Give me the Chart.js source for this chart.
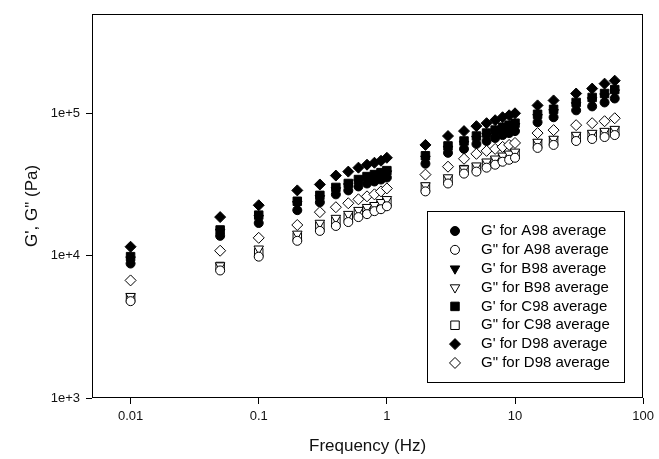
<!DOCTYPE html>
<html>
<head>
<meta charset="utf-8">
<script src="https://cdn.jsdelivr.net/npm/chart.js@4/dist/chart.umd.min.js"></script>
<style>
  html, body { margin: 0; padding: 0; background: #fff; }
  #wrap { width: 659px; height: 459px; }
</style>
</head>
<body>
<div id="wrap"><canvas id="c" width="659" height="459"></canvas></div>
<script>
// Oscillatory frequency sweep (Hz)
const frequency = [0.01, 0.05, 0.1, 0.2, 0.3, 0.4, 0.5, 0.6, 0.7, 0.8, 0.9, 1,
                   2, 3, 4, 5, 6, 7, 8, 9, 10, 15, 20, 30, 40, 50, 60];

// Storage modulus G' (Pa)
const gPrimeA98 = [8800, 13770, 16950, 20870, 23710, 26950, 28730, 30630, 32130, 33180, 34250, 35370,
                   44250, 52750, 56230, 60920, 63900, 67050, 70340, 72630, 74980, 86600, 93810, 104900, 111800, 119200, 127100];
const gPrimeB98 = [9380, 14680, 18360, 22970, 25280, 28730, 30630, 32650, 34250, 35370, 36520, 37700,
                   47920, 56230, 60920, 65990, 69230, 72630, 76200, 78670, 81230, 93810, 101600, 113650, 123100, 131200, 139900];
const gPrimeC98 = [9840, 15150, 19260, 24100, 26520, 30140, 32130, 34250, 35940, 37100, 38310, 39560,
                   50280, 59000, 63900, 69230, 72630, 76200, 79940, 82540, 85220, 98410, 106600, 119200, 129200, 137700, 146800];
const gPrimeD98 = [11550, 18660, 22600, 28730, 31620, 36520, 38930, 41500, 43540, 44960, 46420, 48700,
                   59950, 69230, 74980, 81230, 85220, 89400, 93810, 96860, 100000, 113650, 123100, 137700, 149150, 161600, 169500];

// Loss modulus G" (Pa)
const gDoubleA98 = [4790, 7870, 9840, 12710, 14920, 16160, 17220, 18660, 19570, 20540, 21200, 22240,
                    28280, 32130, 37700, 38930, 41500, 43540, 45680, 47160, 48700, 57130, 59950, 63900, 65990, 68130, 70340];
const gDoubleB98 = [5190, 8520, 11180, 14220, 16950, 18360, 19570, 20870, 21890, 22600, 23710, 24880,
                    31120, 35370, 40840, 42850, 45680, 47920, 50280, 51910, 53600, 62890, 65990, 70340, 72630, 74980, 77430];
const gDoubleC98 = [5030, 8390, 10490, 13550, 16160, 17500, 18660, 19890, 20870, 21890, 22600, 23710,
                    30140, 34250, 40200, 41500, 44250, 46420, 48700, 50280, 51910, 60920, 63900, 68130, 70340, 72630, 74980];
const gDoubleD98 = [6700, 10830, 13340, 16420, 20210, 21890, 23340, 24880, 26100, 26950, 28280, 29660,
                    37100, 42170, 47920, 51910, 54460, 56230, 58060, 59950, 61900, 72630, 76200, 82540, 85220, 87980, 92320];

// Axis ticks
const xTickValues = [0.01, 0.1, 1, 10, 100];
const xTickLabels = ['0.01', '0.1', '1', '10', '100'];
const yTickValues = [1e3, 1e4, 1e5];
const yTickLabels = ['1e+3', '1e+4', '1e+5'];

const FONT = "'Liberation Sans', Arial, Helvetica, sans-serif";

function series(label, values, style, filled, radius, rotation) {
  return {
    label: label,
    data: values.map((v, i) => ({ x: frequency[i], y: v })),
    showLine: false,
    pointStyle: style,
    pointRadius: radius,
    pointHoverRadius: radius,
    pointRotation: rotation,
    pointBorderWidth: 1,
    pointBackgroundColor: filled ? '#000' : '#fff',
    pointBorderColor: '#000',
    backgroundColor: filled ? '#000' : '#fff',
    borderColor: '#000'
  };
}

const datasets = [
  series("G' for A98 average", gPrimeA98, 'circle', true, 4.5, 0),
  series('G" for A98 average', gDoubleA98, 'circle', false, 4.5, 0),
  series("G' for B98 average", gPrimeB98, 'triangle', true, 5.5, 180),
  series('G" for B98 average', gDoubleB98, 'triangle', false, 5.5, 180),
  series("G' for C98 average", gPrimeC98, 'rect', true, 6, 0),
  series('G" for C98 average', gDoubleC98, 'rect', false, 6, 0),
  series("G' for D98 average", gPrimeD98, 'rectRot', true, 5.5, 0),
  series('G" for D98 average', gDoubleD98, 'rectRot', false, 5.5, 0)
];

// Closed frame round the plotting area
const framePlugin = {
  id: 'frame',
  afterDraw(chart) {
    const a = chart.chartArea;
    const ctx = chart.ctx;
    ctx.save();
    ctx.strokeStyle = '#000';
    ctx.lineWidth = 1;
    ctx.strokeRect(Math.round(a.left) + 0.5, Math.round(a.top) + 0.5,
                   Math.round(a.right - a.left) - 1, Math.round(a.bottom - a.top) - 1);
    ctx.restore();
  }
};

// Boxed key drawn inside the plotting area, lower right
const keyPlugin = {
  id: 'boxedKey',
  afterDatasetsDraw(chart) {
    const ctx = chart.ctx;
    const box = { x: 427, y: 211, w: 197, h: 171 };
    ctx.save();
    ctx.fillStyle = '#fff';
    ctx.fillRect(box.x, box.y, box.w, box.h);
    ctx.strokeStyle = '#000';
    ctx.lineWidth = 1;
    ctx.strokeRect(box.x + 0.5, box.y + 0.5, box.w, box.h);
    ctx.font = '15px ' + FONT;
    ctx.textBaseline = 'middle';
    ctx.textAlign = 'left';
    chart.data.datasets.forEach((ds, i) => {
      const cy = 231 + i * 18.85;
      ctx.fillStyle = ds.pointBackgroundColor;
      ctx.strokeStyle = ds.pointBorderColor;
      ctx.lineWidth = 1;
      Chart.helpers.drawPoint(ctx, {
        pointStyle: ds.pointStyle,
        radius: ds.pointRadius,
        rotation: ds.pointRotation,
        borderWidth: 1
      }, 455, cy);
      ctx.fillStyle = '#000';
      ctx.fillText(ds.label, 481, cy);
    });
    ctx.restore();
  }
};

new Chart(document.getElementById('c'), {
  type: 'scatter',
  data: { datasets: datasets },
  options: {
    responsive: false,
    animation: false,
    events: [],
    layout: { padding: { top: 12, right: 13, left: 0, bottom: 0 } },
    plugins: {
      legend: { display: false },
      tooltip: { enabled: false }
    },
    scales: {
      x: {
        type: 'logarithmic',
        min: 0.005,
        max: 100,
        afterFit(scale) { scale.height = 61; },
        afterBuildTicks(scale) { scale.ticks = xTickValues.map(v => ({ value: v, major: true })); },
        border: { display: false },
        grid: { display: true, drawOnChartArea: false, drawTicks: true, tickLength: 6, color: '#000', lineWidth: 1 },
        ticks: {
          autoSkip: false, maxRotation: 0, minRotation: 0, padding: 5,
          color: '#111', font: { family: FONT, size: 13 },
          callback: (v) => xTickLabels[xTickValues.indexOf(v)] ?? ''
        },
        title: {
          display: true, text: 'Frequency (Hz)', color: '#111',
          font: { family: FONT, size: 17 }, padding: { top: 0, bottom: 2 }
        }
      },
      y: {
        type: 'logarithmic',
        min: 1e3,
        max: 5e5,
        afterFit(scale) { scale.width = 92; },
        afterBuildTicks(scale) { scale.ticks = yTickValues.map(v => ({ value: v, major: true })); },
        border: { display: false },
        grid: { display: true, drawOnChartArea: false, drawTicks: true, tickLength: 6, color: '#000', lineWidth: 1 },
        ticks: {
          autoSkip: false, padding: 6,
          color: '#111', font: { family: FONT, size: 13 },
          callback: (v) => yTickLabels[yTickValues.indexOf(v)] ?? ''
        },
        title: {
          display: true, text: 'G\', G" (Pa)', color: '#111',
          font: { family: FONT, size: 17 }, padding: { top: 22, bottom: 0 }
        }
      }
    }
  },
  plugins: [keyPlugin, framePlugin]
});
</script>
</body>
</html>
